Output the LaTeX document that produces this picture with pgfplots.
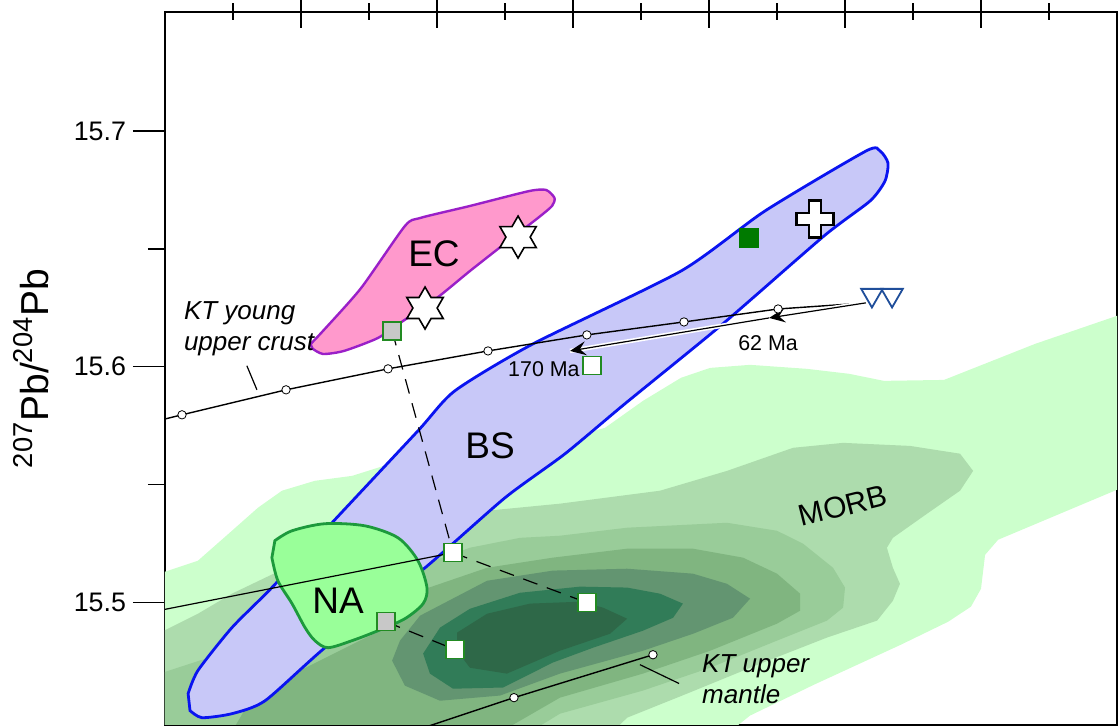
\documentclass[border=0pt]{standalone}
\usepackage{fontspec}
\setmainfont{Liberation Sans}
\usepackage{pgfplots}
\pgfplotsset{compat=1.18}
\usetikzlibrary{arrows.meta}

\definecolor{mA}{HTML}{CCFFCC}
\definecolor{mB}{HTML}{ADDCAD}
\definecolor{mC}{HTML}{99CC99}
\definecolor{mD}{HTML}{80B580}
\definecolor{mE}{HTML}{639571}
\definecolor{mF}{HTML}{317C58}
\definecolor{mG}{HTML}{2E6848}
\definecolor{bsfill}{HTML}{C8C8F8}
\definecolor{bsline}{HTML}{0A14F0}
\definecolor{ecfill}{HTML}{FF99CC}
\definecolor{ecline}{HTML}{9A1FC8}
\definecolor{nafill}{HTML}{99FF99}
\definecolor{naline}{HTML}{1C9A3C}
\definecolor{sqgreen}{HTML}{228B22}
\definecolor{darkgreen}{HTML}{007A00}
\definecolor{triblue}{HTML}{1F4E9A}
\definecolor{sqgray}{HTML}{C8C8C8}

\pgfdeclareplotmark{hexstar}{%
  \pgfpathmoveto{\pgfqpoint{0pt}{\pgfplotmarksize}}%
  \pgfpathlineto{\pgfqpoint{-0.2885\pgfplotmarksize}{0.5\pgfplotmarksize}}%
  \pgfpathlineto{\pgfqpoint{-0.866\pgfplotmarksize}{0.5\pgfplotmarksize}}%
  \pgfpathlineto{\pgfqpoint{-0.577\pgfplotmarksize}{0pt}}%
  \pgfpathlineto{\pgfqpoint{-0.866\pgfplotmarksize}{-0.5\pgfplotmarksize}}%
  \pgfpathlineto{\pgfqpoint{-0.2885\pgfplotmarksize}{-0.5\pgfplotmarksize}}%
  \pgfpathlineto{\pgfqpoint{0pt}{-\pgfplotmarksize}}%
  \pgfpathlineto{\pgfqpoint{0.2885\pgfplotmarksize}{-0.5\pgfplotmarksize}}%
  \pgfpathlineto{\pgfqpoint{0.866\pgfplotmarksize}{-0.5\pgfplotmarksize}}%
  \pgfpathlineto{\pgfqpoint{0.577\pgfplotmarksize}{0pt}}%
  \pgfpathlineto{\pgfqpoint{0.866\pgfplotmarksize}{0.5\pgfplotmarksize}}%
  \pgfpathlineto{\pgfqpoint{0.2885\pgfplotmarksize}{0.5\pgfplotmarksize}}%
  \pgfpathclose
  \pgfusepathqfillstroke
}
\pgfdeclareplotmark{greekcross}{%
  \pgfpathmoveto{\pgfqpoint{0.33\pgfplotmarksize}{\pgfplotmarksize}}%
  \pgfpathlineto{\pgfqpoint{0.33\pgfplotmarksize}{0.33\pgfplotmarksize}}%
  \pgfpathlineto{\pgfqpoint{\pgfplotmarksize}{0.33\pgfplotmarksize}}%
  \pgfpathlineto{\pgfqpoint{\pgfplotmarksize}{-0.33\pgfplotmarksize}}%
  \pgfpathlineto{\pgfqpoint{0.33\pgfplotmarksize}{-0.33\pgfplotmarksize}}%
  \pgfpathlineto{\pgfqpoint{0.33\pgfplotmarksize}{-\pgfplotmarksize}}%
  \pgfpathlineto{\pgfqpoint{-0.33\pgfplotmarksize}{-\pgfplotmarksize}}%
  \pgfpathlineto{\pgfqpoint{-0.33\pgfplotmarksize}{-0.33\pgfplotmarksize}}%
  \pgfpathlineto{\pgfqpoint{-\pgfplotmarksize}{-0.33\pgfplotmarksize}}%
  \pgfpathlineto{\pgfqpoint{-\pgfplotmarksize}{0.33\pgfplotmarksize}}%
  \pgfpathlineto{\pgfqpoint{-0.33\pgfplotmarksize}{0.33\pgfplotmarksize}}%
  \pgfpathlineto{\pgfqpoint{-0.33\pgfplotmarksize}{\pgfplotmarksize}}%
  \pgfpathclose
  \pgfusepathqfillstroke
}

\begin{document}
\begin{tikzpicture}
\begin{axis}[
  name=ax,
  scale only axis, width=476pt, height=356.5pt,
  xmin=17, xmax=20.5, ymin=15.448, ymax=15.7505,
  xtick=\empty,
  ytick={15.5,15.6,15.7}, minor ytick={15.55,15.65},
  ytick pos=left,
  tick align=outside,
  major tick length=16pt, minor tick length=8.5pt,
  every tick/.style={black, line width=0.75pt},
  axis line style={line width=0.9pt},
  /pgf/number format/assume math mode=true,
  yticklabel style={font=\fontsize{13.4}{16}\selectfont, /pgf/number format/fixed, /pgf/number format/precision=1, /pgf/number format/fixed zerofill},
  ylabel={\textsuperscript{207}Pb/\textsuperscript{204}Pb},
  ylabel style={at={(axis description cs:-0.1229,0.5)}, anchor=base, font=\fontsize{19.5}{23}\selectfont},
]
% MORB density contours
\addplot[fill=mA, draw=none] coordinates {(16.9,15.44) (16.9,15.5092) (17.121,15.5177) (17.246,15.5304) (17.342,15.5402) (17.430,15.5474) (17.551,15.5516) (17.688,15.5537) (17.864,15.5601) (18.158,15.5664) (18.452,15.5686) (18.618,15.5741) (18.757,15.5855) (18.897,15.5953) (19.004,15.5995) (19.151,15.6008) (19.360,15.5991) (19.515,15.5970) (19.643,15.5940) (19.864,15.5944) (20.199,15.6097) (20.500,15.6216) (20.6,15.625) (20.6,15.545) (20.500,15.5478) (20.063,15.5266) (20.015,15.5202) (20.000,15.5058) (19.963,15.4982) (19.879,15.4918) (19.706,15.4821) (19.386,15.4651) (19.151,15.4520) (19.02,15.44)} -- cycle;
\addplot[fill=mB, draw=none] coordinates {(16.9,15.44) (16.9,15.4825) (17.121,15.4952) (17.246,15.5037) (17.423,15.5135) (17.864,15.5304) (18.184,15.5389) (18.452,15.5419) (18.820,15.5474) (19.066,15.5558) (19.309,15.5656) (19.493,15.5677) (19.739,15.5664) (19.923,15.5631) (19.971,15.5558) (19.923,15.5474) (19.801,15.5376) (19.676,15.5274) (19.654,15.5232) (19.676,15.5147) (19.702,15.5079) (19.676,15.5007) (19.618,15.4923) (19.434,15.4851) (19.188,15.4740) (18.919,15.4613) (18.699,15.4511) (18.60,15.44)} -- cycle;
\addplot[fill=mC, draw=none] coordinates {(16.9,15.44) (16.9,15.4668) (17.239,15.4795) (17.496,15.4965) (17.938,15.5156) (18.121,15.5232) (18.305,15.5274) (18.452,15.5283) (18.699,15.5317) (19.066,15.5338) (19.250,15.5304) (19.346,15.5249) (19.456,15.5147) (19.500,15.5063) (19.493,15.4978) (19.434,15.4923) (19.250,15.4838) (19.004,15.4723) (18.757,15.4626) (18.452,15.4528) (18.27,15.44)} -- cycle;
\addplot[fill=mD, draw=none] coordinates {(17.22,15.44) (17.3125,15.4583) (17.496,15.4711) (17.790,15.4880) (17.938,15.5050) (18.184,15.5147) (18.426,15.5190) (18.699,15.5228) (18.941,15.5228) (19.125,15.5190) (19.250,15.5122) (19.335,15.5037) (19.335,15.4965) (19.250,15.4910) (19.004,15.4795) (18.757,15.4698) (18.452,15.4596) (18.158,15.44)} -- cycle;
\addplot[fill=mE, draw=none] coordinates {(17.835,15.4753) (17.864,15.4838) (17.938,15.4944) (18.184,15.5092) (18.426,15.5135) (18.699,15.5143) (18.941,15.5122) (19.066,15.5079) (19.151,15.5016) (19.088,15.4935) (18.941,15.4867) (18.757,15.4795) (18.452,15.4698) (18.232,15.4605) (18.011,15.4583) (17.882,15.4647)} -- cycle;
\addplot[fill=mF, draw=none] coordinates {(17.949,15.4783) (18.011,15.4893) (18.121,15.4973) (18.305,15.5041) (18.526,15.5067) (18.699,15.5063) (18.820,15.5037) (18.904,15.4995) (18.868,15.4935) (18.757,15.4880) (18.574,15.4808) (18.426,15.4745) (18.243,15.4639) (18.059,15.4634) (17.974,15.4698)} -- cycle;
\addplot[fill=mG, draw=none] coordinates {(18.074,15.4872) (18.184,15.4952) (18.342,15.4995) (18.526,15.5003) (18.610,15.4978) (18.699,15.4931) (18.636,15.4867) (18.452,15.4795) (18.257,15.4698) (18.121,15.4723) (18.074,15.4795)} -- cycle;
% BS field
\addplot[fill=bsfill, draw=bsline, line width=1.4pt, smooth, tension=0.4] coordinates {(17.085,15.4613) (17.121,15.4711) (17.246,15.4893) (17.393,15.5063) (17.614,15.5338) (17.930,15.5728) (18.066,15.5898) (18.353,15.6097) (18.897,15.6406) (19.206,15.6661) (19.577,15.6915) (19.629,15.6915) (19.658,15.6864) (19.647,15.6788) (19.592,15.6703) (19.423,15.6555) (19.051,15.6182) (18.691,15.5843) (18.471,15.5631) (18.25,15.5444) (17.956,15.5147) (17.588,15.4808) (17.368,15.4583) (17.246,15.4528) (17.136,15.4511) (17.092,15.4541)} -- cycle;
% EC field
\addplot[fill=ecfill, draw=ecline, line width=1.2pt, smooth, tension=0.4] coordinates {(17.535,15.6096) (17.581,15.6152) (17.721,15.6334) (17.882,15.6597) (17.938,15.6631) (18.121,15.6682) (18.338,15.6745) (18.401,15.6750) (18.432,15.6716) (18.423,15.6682) (18.371,15.6631) (18.261,15.6533) (18.121,15.6406) (18.000,15.6292) (17.875,15.6194) (17.783,15.6122) (17.658,15.6067) (17.581,15.6054) (17.543,15.6076)} -- cycle;
% NA field
\addplot[fill=nafill, draw=naline, line width=1.4pt, smooth, tension=0.5] coordinates {(17.404,15.5262) (17.467,15.5304) (17.588,15.5334) (17.735,15.5325) (17.857,15.5274) (17.930,15.5177) (17.963,15.5063) (17.949,15.4995) (17.882,15.4931) (17.783,15.4880) (17.688,15.4838) (17.599,15.4808) (17.551,15.4838) (17.515,15.4893) (17.467,15.4995) (17.415,15.5092) (17.393,15.5190)} -- cycle;
% KT young upper crust
\addplot[black, line width=0.7pt] coordinates {(16.9,15.575) (17.0625,15.5796) (17.445,15.5902) (17.820,15.5991) (18.1875,15.6067) (18.551,15.6135) (18.908,15.6190) (19.254,15.6245) (19.518,15.6266)};
\addplot[black, line width=0.6pt] coordinates {(17.301,15.6004) (17.338,15.5902)};
% KT upper mantle
\addplot[black, line width=0.7pt] coordinates {(17.864,15.4435) (18.283,15.4596) (18.794,15.4778)};
\addplot[black, line width=0.6pt] coordinates {(18.746,15.4736) (18.890,15.4656)};
% mixing line
\addplot[black, line width=0.6pt] coordinates {(16.9,15.4948) (18.059,15.5211)};
% dashed links
\addplot[black, line width=0.6pt, dash pattern=on 7.5pt off 5pt] coordinates {(17.835,15.6152) (18.059,15.5211)};
\addplot[black, line width=0.6pt, dash pattern=on 7.5pt off 5pt] coordinates {(18.059,15.5211) (18.551,15.4999)};
\addplot[black, line width=0.6pt, dash pattern=on 7.5pt off 5pt] coordinates {(17.8125,15.4918) (18.066,15.4800)};
% age arrows with white halo
\addplot[white, line width=2.2pt] coordinates {(19.577,15.6271) (19.221,15.6207) (18.489,15.6067)};
\addplot[black, line width=0.6pt, -{Stealth[length=8pt,width=7pt,inset=3pt]}] coordinates {(19.577,15.6271) (19.221,15.6207)};
\addplot[black, line width=0.6pt, -{Stealth[length=8pt,width=7pt,inset=3pt]}] coordinates {(19.221,15.6207) (18.489,15.6067)};
% circles
\addplot[only marks, mark=*, mark size=2.1pt, mark options={fill=white, draw=black, line width=0.4pt}] coordinates {(17.0625,15.5796) (17.445,15.5902) (17.820,15.5991) (18.1875,15.6067) (18.551,15.6135) (18.908,15.6190) (19.254,15.6245) (18.283,15.4596) (18.794,15.4778)};
% squares
\addplot[only marks, mark=square*, mark size=4.5pt, mark options={fill=white, draw=sqgreen, line width=0.7pt}] coordinates {(18.570,15.6004) (18.059,15.5211) (18.551,15.4999) (18.066,15.4800)};
\addplot[only marks, mark=square*, mark size=4.5pt, mark options={fill=sqgray, draw=sqgreen, line width=0.7pt}] coordinates {(17.835,15.6152) (17.8125,15.4918)};
\addplot[only marks, mark=square*, mark size=4.7pt, mark options={fill=darkgreen, draw=darkgreen}] coordinates {(19.147,15.6546)};
% stars, cross, triangles
\addplot[only marks, mark=hexstar, mark size=10.5pt, mark options={fill=white, draw=black, line width=0.8pt}] coordinates {(18.298,15.655) (17.956,15.6249)};
\addplot[only marks, mark=greekcross, mark size=9.25pt, mark options={fill=white, draw=black, line width=1.1pt}] coordinates {(19.390,15.6627)};
\addplot[only marks, mark=triangle*, mark size=6.2pt, mark options={rotate=180, fill=white, draw=triblue, line width=0.9pt}] coordinates {(19.599,15.6304) (19.673,15.6304)};
% labels
\node[font=\fontsize{18.5}{20}\selectfont] at (axis cs:17.989,15.6478) {EC};
\node[font=\fontsize{18.5}{20}\selectfont] at (axis cs:18.195,15.5664) {BS};
\node[font=\fontsize{18.5}{20}\selectfont] at (axis cs:17.636,15.5007) {NA};
\node[font=\fontsize{15}{17}\selectfont, rotate=14] at (axis cs:19.493,15.541) {MORB};
\node[anchor=west, align=left, font={\fontsize{13}{15.5}\selectfont\itshape}] at (axis cs:17.044,15.6163) {KT young\\upper crust};
\node[anchor=west, align=left, font={\fontsize{13}{15.5}\selectfont\itshape}] at (axis cs:18.949,15.4673) {KT upper\\mantle};
\node[font=\fontsize{10.7}{12}\selectfont] at (axis cs:19.217,15.6101) {62 Ma};
\node[font=\fontsize{10.7}{12}\selectfont] at (axis cs:18.393,15.5991) {170 Ma};
\end{axis}
\begin{axis}[
  at={(ax.south west)}, anchor=south west,
  scale only axis, width=476pt, height=356.5pt,
  xmin=17, xmax=20.5, ymin=0, ymax=1,
  axis x line*=top, axis y line=none,
  tick align=center,
  xtick={17.5,18,18.5,19,19.5,20},
  minor xtick={17.25,17.75,18.25,18.75,19.25,19.75,20.25},
  xticklabels={},
  major tick length=16pt, minor tick length=8.5pt,
  every tick/.style={black, line width=0.75pt},
  axis line style={line width=0.9pt},
]
\addplot[draw=none] coordinates {(17,0.5)};
\end{axis}
\pgfresetboundingbox
\path[use as bounding box] ([xshift=-82.5pt]ax.south west) rectangle ([xshift=1pt,yshift=6pt]ax.north east);
\end{tikzpicture}
\end{document}
